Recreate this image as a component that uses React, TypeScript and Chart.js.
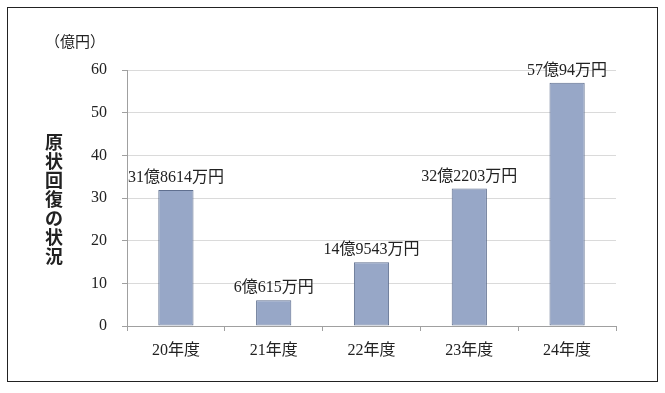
import React, { useEffect, useRef } from "react";
import { Chart, registerables } from "chart.js";

Chart.register(...registerables);

const categories = ["20年度", "21年度", "22年度", "23年度", "24年度"];
const values = [31.8614, 6.0615, 14.9543, 32.2203, 57.0094];
const valueLabels = ["31億8614万円", "6億615万円", "14億9543万円", "32億2203万円", "57億94万円"];
const yTitle = "原状回復の状況";
const unitLabel = "（億円）";

const FONT = "'Liberation Serif', 'DejaVu Serif', 'Noto Sans CJK JP', serif";

const decorPlugin = {
  id: "decor",
  beforeDraw(chart: any) {
    const ctx = chart.ctx;
    ctx.save();
    ctx.fillStyle = "#ffffff";
    ctx.fillRect(0, 0, chart.width, chart.height);
    ctx.strokeStyle = "#222222";
    ctx.lineWidth = 1;
    ctx.strokeRect(7.5, 7.5, 650, 374);
    ctx.restore();
  },
  afterDraw(chart: any) {
    const ctx = chart.ctx;
    ctx.save();
    // unit label
    ctx.fillStyle = "#222222";
    ctx.font = "15px " + FONT;
    ctx.textAlign = "left";
    ctx.textBaseline = "middle";
    ctx.fillText(unitLabel, 45, 43);
    // vertical title
    ctx.font = "bold 18px 'Noto Sans CJK JP', sans-serif";
    ctx.textAlign = "center";
    const chars = Array.from(yTitle);
    const step = 19;
    const startY = 142;
    chars.forEach((c, i) => ctx.fillText(c, 54, startY + i * step));
    // value labels
    ctx.font = "16px " + FONT;
    ctx.textBaseline = "alphabetic";
    const meta = chart.getDatasetMeta(0);
    meta.data.forEach((bar: any, i: number) => {
      ctx.fillText(valueLabels[i], bar.x, bar.y - 8);
    });
    ctx.restore();
  },
};

export default function App() {
  const ref = useRef<HTMLCanvasElement>(null);
  useEffect(() => {
    if (!ref.current) return;
    const chart = new Chart(ref.current, {
      type: "bar",
      data: {
        labels: categories,
        datasets: [
          {
            data: values,
            backgroundColor: "#97A7C7",
            borderColor: "#5F6F8F",
            borderWidth: 1,
            borderSkipped: false,
            barPercentage: 0.36,
            categoryPercentage: 1,
          },
        ],
      },
      options: {
        animation: false,
        responsive: false,
        devicePixelRatio: 1,
        layout: { padding: { top: 70, right: 49, left: 0, bottom: 0 } },
        plugins: { legend: { display: false }, tooltip: { enabled: false } },
        scales: {
          x: {
            afterFit: (s: any) => {
              s.height = 67;
            },
            grid: {
              drawOnChartArea: false,
              drawTicks: true,
              tickLength: 5,
              tickColor: "#A0A0A0",
              offset: true,
            },
            border: { color: "#A0A0A0", width: 1 },
            ticks: { color: "#222222", padding: 10, font: { size: 16, family: FONT } },
          },
          y: {
            min: 0,
            max: 60,
            afterFit: (s: any) => {
              s.width = 127;
            },
            ticks: { stepSize: 10, color: "#222222", padding: 15, font: { size: 16, family: FONT } },
            grid: { color: "#DADADA", tickColor: "#A0A0A0", tickLength: 5, lineWidth: 1 },
            border: { color: "#A0A0A0", width: 1 },
          },
        },
      },
      plugins: [decorPlugin],
    });
    return () => chart.destroy();
  }, []);
  return (
    <div style={{ position: "absolute", left: 0, top: 0, width: 665, height: 393 }}>
      <canvas ref={ref} width={665} height={393} style={{ width: 665, height: 393 }} />
    </div>
  );
}
